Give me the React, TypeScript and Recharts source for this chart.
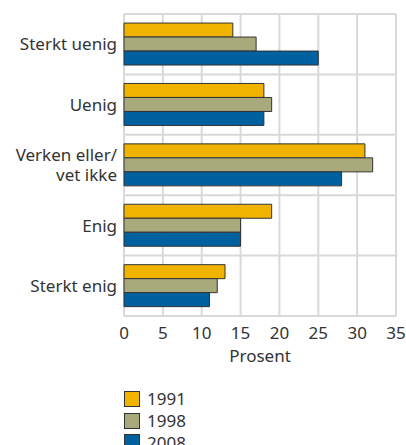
import { Bar, BarChart, CartesianGrid, XAxis, YAxis } from "recharts";

const categories = ["Sterkt uenig", "Uenig", "Verken eller/\nvet ikke", "Enig", "Sterkt enig"];
const v1991 = [14, 18, 31, 19, 13];
const v1998 = [17, 19, 32, 15, 12];
const v2008 = [25, 18, 28, 15, 11];
const xTicks = [0, 5, 10, 15, 20, 25, 30, 35];

const series = [
  { key: "y1991", name: "1991", color: "#f0b400" },
  { key: "y1998", name: "1998", color: "#a8aa7c" },
  { key: "y2008", name: "2008", color: "#0061a1" },
];

const data = categories.map((c, i) => ({
  cat: c,
  y1991: v1991[i],
  y1998: v1998[i],
  y2008: v2008[i],
}));

const FONT = "'Noto Sans', sans-serif";
const TEXT = "#333333";

function CatTick(props: any) {
  const { x, y, payload } = props;
  const lines = String(payload.value).split("\n");
  const lh = 20;
  const start = -((lines.length - 1) * lh) / 2;
  return (
    <text x={x} y={y} textAnchor="end" fill={TEXT} fontSize={17} fontFamily={FONT}>
      {lines.map((l, i) => (
        <tspan key={i} x={x} y={y + start + i * lh} dy="0.36em">
          {l}
        </tspan>
      ))}
    </text>
  );
}

export default function App() {
  return (
    <div style={{ position: "absolute", left: 0, top: 0, width: 406, height: 445, background: "#fff" }}>
      <BarChart
        width={406}
        height={445}
        data={data}
        layout="vertical"
        margin={{ top: 14, right: 10, bottom: 83, left: 0 }}
        barCategoryGap="15%"
        barGap={0}
      >
        <CartesianGrid
          stroke="#d9d9d9"
          strokeWidth={2}
          horizontalCoordinatesGenerator={({ offset }: any) =>
            categories.map((_, i) => offset.top + (offset.height * i) / categories.length).concat(offset.top + offset.height)
          }
        />
        <XAxis
          type="number"
          domain={[0, 35]}
          ticks={xTicks}
          axisLine={false}
          tickLine={false}
          tickMargin={5}
          height={46}
          tick={{ fill: TEXT, fontSize: 17, fontFamily: FONT }}
          label={{ value: "Prosent", position: "insideBottom", offset: 0, fill: TEXT, fontSize: 17, fontFamily: FONT }}
        />
        <YAxis
          type="category"
          dataKey="cat"
          width={124}
          axisLine={false}
          tickLine={false}
          tick={<CatTick />}
          tickMargin={1}
          interval={0}
        />
        {series.map((s) => (
          <Bar key={s.key} dataKey={s.key} name={s.name} fill={s.color} stroke="#333" strokeWidth={1} isAnimationActive={false} />
        ))}
      </BarChart>
      <div style={{ position: "absolute", left: 124, top: 388, fontFamily: FONT, fontSize: 17, color: TEXT }}>
        {series.map((s) => (
          <div key={s.key} style={{ display: "flex", alignItems: "center", height: 21.7 }}>
            <span style={{ width: 14, height: 14, background: s.color, border: "1px solid #333", marginRight: 7 }} />
            <span style={{ lineHeight: "21px" }}>{s.name}</span>
          </div>
        ))}
      </div>
    </div>
  );
}
